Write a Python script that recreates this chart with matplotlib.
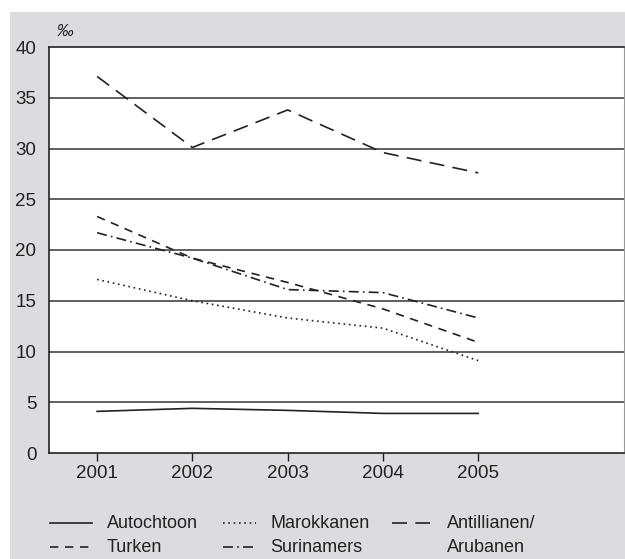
import matplotlib.pyplot as plt
from matplotlib.lines import Line2D
from matplotlib.patches import Rectangle

plt.rcParams['font.family'] = ['Liberation Sans Narrow', 'Liberation Sans', 'DejaVu Sans']

years = [2001, 2002, 2003, 2004, 2005]
autochtoon = [4.1, 4.4, 4.2, 3.9, 3.9]
marokkanen = [17.1, 15.0, 13.3, 12.3, 9.1]
antillianen = [37.1, 30.1, 33.8, 29.6, 27.6]
turken = [23.3, 19.2, 16.8, 14.2, 10.9]
surinamers = [21.7, 19.2, 16.1, 15.8, 13.3]
yticks = [0, 5, 10, 15, 20, 25, 30, 35, 40]

ink = '#222222'
grey = '#dcdcde'

fig = plt.figure(figsize=(6.25, 5.59), dpi=100)
fig.patch.set_facecolor('white')
# grey panel behind chart and legend
fig.patches.append(Rectangle((10 / 625, 0), 1, 1 - 12 / 559, transform=fig.transFigure,
                             facecolor=grey, edgecolor='none', zorder=-5))

ax = fig.add_axes([49 / 625, 1 - 453 / 559, (624 - 49) / 625, (453 - 47) / 559])
ax.set_facecolor('white')

styles = {
    'Autochtoon': dict(ls='-'),
    'Marokkanen': dict(ls=(0, (1, 2.2))),
    'Antillianen': dict(ls=(0, (9, 5))),
    'Turken': dict(ls=(0, (5, 4))),
    'Surinamers': dict(ls=(0, (6, 2.5, 1, 2.5))),
}
series = {
    'Autochtoon': autochtoon,
    'Marokkanen': marokkanen,
    'Antillianen': antillianen,
    'Turken': turken,
    'Surinamers': surinamers,
}
for name, vals in series.items():
    ax.plot(years, vals, color=ink, lw=1.2, zorder=3, **styles[name])

ax.set_xlim(2000.495, 2006.53)
ax.set_ylim(0, 40)
ax.set_yticks(yticks)
ax.set_xticks(years)
for y in yticks[1:-1]:
    ax.axhline(y, color='#444444', lw=1.2, zorder=1)

ax.tick_params(axis='y', length=0, labelsize=13.5, pad=9, colors=ink)
ax.tick_params(axis='x', length=6, width=1, labelsize=13.5, pad=3, colors=ink)
for s in ['left', 'top', 'bottom']:
    ax.spines[s].set_color(ink)
    ax.spines[s].set_linewidth(1.2)
ax.spines['right'].set_color('#999999')

fig.text(57 / 625, 1 - 31 / 559, '‰', fontsize=12, style='italic', color=ink,
         ha='left', va='center')

# legend drawn by hand: three columns, two rows
row1 = 1 - 523 / 559
row2 = 1 - 547 / 559
entries = [
    (50, 92, 107, row1, 'Autochtoon', 'Autochtoon'),
    (50, 92, 107, row2, 'Turken', 'Turken'),
    (223, 256, 270, row1, 'Marokkanen', 'Marokkanen'),
    (223, 256, 270, row2, 'Surinamers', 'Surinamers'),
    (392, 430, 447, row1, 'Antillianen', 'Antillianen/'),
]
for x0, x1, xt, yy, key, label in entries:
    fig.add_artist(Line2D([x0 / 625, x1 / 625], [yy, yy], transform=fig.transFigure,
                          color=ink, lw=1.2, **styles[key]))
    fig.text(xt / 625, yy, label, fontsize=13, color=ink, ha='left', va='center')
fig.text(447 / 625, row2, 'Arubanen', fontsize=13, color=ink, ha='left', va='center')

fig.savefig('out.png', dpi=100, facecolor=fig.get_facecolor())
